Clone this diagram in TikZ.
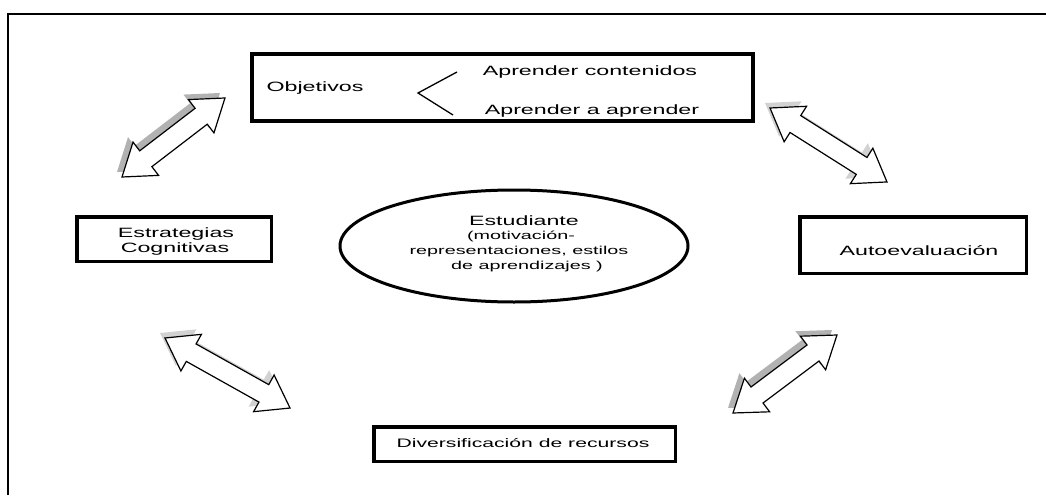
\documentclass[tikz,border=0pt]{standalone}
\usepackage{fontspec}
\setmainfont{Liberation Sans}[FakeStretch=1.72]
\usetikzlibrary{shapes.geometric,calc}
\newcommand\arrowpath[1]{(0,0) -- (30,21) -- (30,10) -- (#1-30,10) -- (#1-30,21) -- (#1,0) -- (#1-30,-21) -- (#1-30,-10) -- (30,-10) -- (30,-21) -- cycle}
\newcommand\hollowarrow[4]{%
  \begin{scope}[shift={($(#1)+(-5,-5)$)}, rotate=#2]
    \fill[#4] \arrowpath{#3};
  \end{scope}
  \begin{scope}[shift={(#1)}, rotate=#2]
    \draw[arrowline] \arrowpath{#3};
  \end{scope}}
\begin{document}
\begin{tikzpicture}[x=1pt,y=-1pt,
  frame/.style={line width=2.5pt},
  box/.style={draw, line width=3.5pt, inner sep=0pt},
  lbl/.style={font=\fontsize{13.5}{15}\selectfont, inner sep=0pt, anchor=base},
  small/.style={font=\fontsize{11.5}{15}\selectfont, inner sep=0pt, anchor=base},
  arrowline/.style={fill=white, draw=black, line width=1.2pt, line join=miter},
  chev/.style={line width=1.3pt}]
\useasboundingbox (0,0) rectangle (1046,495);
% outer frame (only top and left edges visible)
\coordinate (fr) at (1046,14);
\coordinate (fc) at (8,14);
\coordinate (fb) at (8,495);
\draw[frame] (fr) -- (fc) -- (fb);
% boxes
\node[box, minimum width=501pt, minimum height=67pt] (obj) at (502.5,87.5) {};
\node[box, minimum width=194.5pt, minimum height=44.5pt] (est) at (174,239) {};
\node[box, minimum width=226.5pt, minimum height=56.5pt] (auto) at (913,245) {};
\node[box, minimum width=301.5pt, minimum height=34.5pt] (div) at (524.5,444) {};
\node[draw, ellipse, line width=3pt, inner sep=0pt, minimum width=348pt, minimum height=112pt] (stu) at (514,246) {};
% texts
\node[lbl] (tobj) at (315,92) {Objetivos};
\node[lbl] (tac) at (590,75) {Aprender contenidos};
\node[lbl] (taa) at (592,114) {Aprender a aprender};
\coordinate (c1) at (457,72);
\coordinate (c2) at (418,93);
\coordinate (c3) at (453,115);
\draw[chev] (c1) -- (c2) -- (c3);
\node[lbl] (test1) at (176,237) {Estrategias};
\node[lbl] (test2) at (175,252) {Cognitivas};
\node[lbl] (tauto) at (919,255) {Autoevaluación};
\node[lbl, font=\fontsize{12.3}{15}\selectfont] (tdiv) at (523,447) {Diversificación de recursos};
\node[lbl] (tstu) at (524,225) {Estudiante};
\node[small] (ts1) at (521,239) {(motivación-};
\node[small] (ts2) at (519,254) {representaciones, estilos};
\node[small] (ts3) at (527,269) {de aprendizajes )};
% double arrows
\coordinate (a1) at (122,177);
\coordinate (a2) at (770,108);
\coordinate (a3) at (165,338);
\coordinate (a4) at (733,413);
\hollowarrow{a1}{37.5}{129.8}{gray!60}
\hollowarrow{a2}{-32.3}{138.4}{gray!35}
\hollowarrow{a3}{-29.25}{143.3}{gray!35}
\hollowarrow{a4}{36.87}{130}{gray!60}
\end{tikzpicture}
\end{document}
